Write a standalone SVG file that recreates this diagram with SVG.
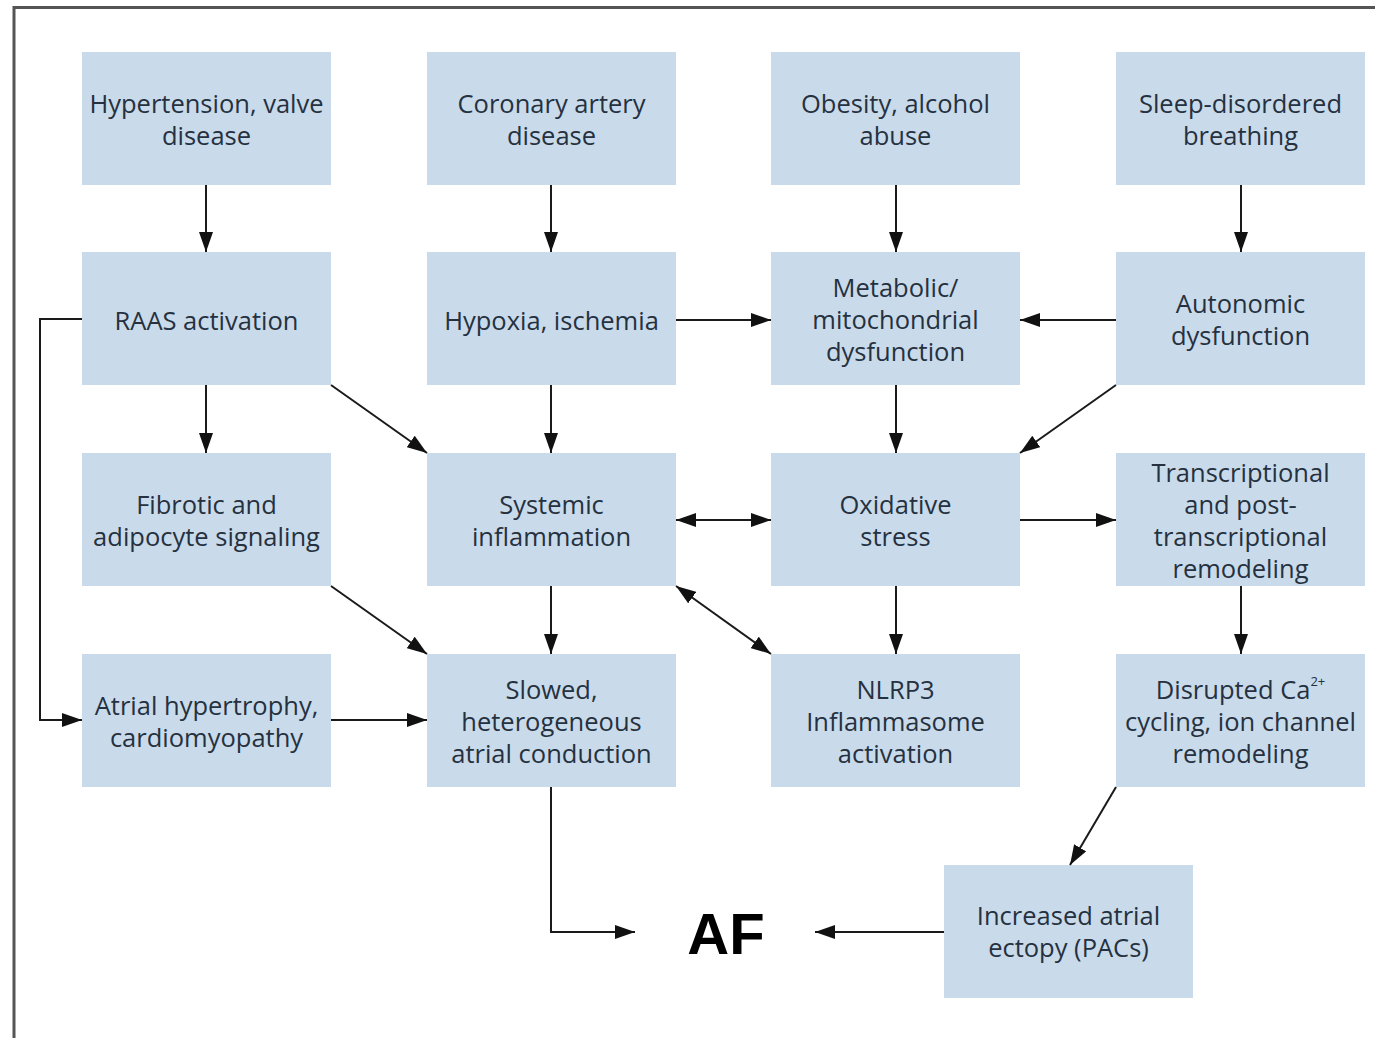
<svg xmlns="http://www.w3.org/2000/svg" width="1375" height="1038" viewBox="0 0 1375 1038">
<style>
.box{fill:#c9dbeb}
.t{font-family:"Open Sans","Noto Sans",sans-serif;font-size:25.5px;fill:#26313f;text-anchor:middle;dominant-baseline:central}
.c{stroke:#1a1a1a;stroke-width:2;fill:none}
.af{font-family:"Liberation Sans",Arial,sans-serif;font-weight:bold;font-size:58px;fill:#000;text-anchor:middle;dominant-baseline:central}
</style>
<defs>
<marker id="ah" viewBox="0 0 20 14" refX="20" refY="7" markerWidth="20" markerHeight="14" markerUnits="userSpaceOnUse" orient="auto-start-reverse">
<path d="M0,0 L20,7 L0,14 Z" fill="#111"/>
</marker>
</defs>
<rect width="1375" height="1038" fill="#fff"/>
<path d="M14,1038 V7.5 H1375" stroke="#555" stroke-width="3" fill="none"/>

<g id="n1"><rect class="box" x="82" y="52" width="249" height="133"/><text class="t" x="206.5" y="102.5">Hypertension, valve</text><text class="t" x="206.5" y="134.5">disease</text></g>
<g id="n2"><rect class="box" x="427" y="52" width="249" height="133"/><text class="t" x="551.5" y="102.5">Coronary artery</text><text class="t" x="551.5" y="134.5">disease</text></g>
<g id="n3"><rect class="box" x="771" y="52" width="249" height="133"/><text class="t" x="895.5" y="102.5">Obesity, alcohol</text><text class="t" x="895.5" y="134.5">abuse</text></g>
<g id="n4"><rect class="box" x="1116" y="52" width="249" height="133"/><text class="t" x="1240.5" y="102.5">Sleep-disordered</text><text class="t" x="1240.5" y="134.5">breathing</text></g>

<g id="n5"><rect class="box" x="82" y="252" width="249" height="133"/><text class="t" x="206.5" y="320">RAAS activation</text></g>
<g id="n6"><rect class="box" x="427" y="252" width="249" height="133"/><text class="t" x="551.5" y="320">Hypoxia, ischemia</text></g>
<g id="n7"><rect class="box" x="771" y="252" width="249" height="133"/><text class="t" x="895.5" y="287">Metabolic/</text><text class="t" x="895.5" y="319">mitochondrial</text><text class="t" x="895.5" y="351">dysfunction</text></g>
<g id="n8"><rect class="box" x="1116" y="252" width="249" height="133"/><text class="t" x="1240.5" y="303">Autonomic</text><text class="t" x="1240.5" y="335">dysfunction</text></g>

<g id="n9"><rect class="box" x="82" y="453" width="249" height="133"/><text class="t" x="206.5" y="504">Fibrotic and</text><text class="t" x="206.5" y="536">adipocyte signaling</text></g>
<g id="n10"><rect class="box" x="427" y="453" width="249" height="133"/><text class="t" x="551.5" y="504">Systemic</text><text class="t" x="551.5" y="536">inflammation</text></g>
<g id="n11"><rect class="box" x="771" y="453" width="249" height="133"/><text class="t" x="895.5" y="504">Oxidative</text><text class="t" x="895.5" y="536">stress</text></g>
<g id="n12"><rect class="box" x="1116" y="453" width="249" height="133"/><text class="t" x="1240.5" y="472">Transcriptional</text><text class="t" x="1240.5" y="504">and post-</text><text class="t" x="1240.5" y="536">transcriptional</text><text class="t" x="1240.5" y="568">remodeling</text></g>

<g id="n13"><rect class="box" x="82" y="654" width="249" height="133"/><text class="t" x="206.5" y="705">Atrial hypertrophy,</text><text class="t" x="206.5" y="737">cardiomyopathy</text></g>
<g id="n14"><rect class="box" x="427" y="654" width="249" height="133"/><text class="t" x="551.5" y="689">Slowed,</text><text class="t" x="551.5" y="721">heterogeneous</text><text class="t" x="551.5" y="753">atrial conduction</text></g>
<g id="n15"><rect class="box" x="771" y="654" width="249" height="133"/><text class="t" x="895.5" y="689">NLRP3</text><text class="t" x="895.5" y="721">Inflammasome</text><text class="t" x="895.5" y="753">activation</text></g>
<g id="n16"><rect class="box" x="1116" y="654" width="249" height="133"/><text class="t" x="1240.5" y="689">Disrupted Ca<tspan font-size="13" dy="-8">2+</tspan></text><text class="t" x="1240.5" y="721">cycling, ion channel</text><text class="t" x="1240.5" y="753">remodeling</text></g>

<g id="n17"><rect class="box" x="944" y="865" width="249" height="133"/><text class="t" x="1068.5" y="915">Increased atrial</text><text class="t" x="1068.5" y="947">ectopy (PACs)</text></g>
<g id="af"><text class="af" x="726" y="933">AF</text></g>

<g id="connectors">
<path class="c" d="M206,185 V252" marker-end="url(#ah)"/>
<path class="c" d="M551,185 V252" marker-end="url(#ah)"/>
<path class="c" d="M896,185 V252" marker-end="url(#ah)"/>
<path class="c" d="M1241,185 V252" marker-end="url(#ah)"/>
<path class="c" d="M82,319 H40 V720 H82" marker-end="url(#ah)"/>
<path class="c" d="M206,385 V453" marker-end="url(#ah)"/>
<path class="c" d="M331,385 L427,453" marker-end="url(#ah)"/>
<path class="c" d="M551,385 V453" marker-end="url(#ah)"/>
<path class="c" d="M676,320 H771" marker-end="url(#ah)"/>
<path class="c" d="M1116,320 H1020" marker-end="url(#ah)"/>
<path class="c" d="M896,385 V453" marker-end="url(#ah)"/>
<path class="c" d="M1116,385 L1020,453" marker-end="url(#ah)"/>
<path class="c" d="M676,520 H771" marker-start="url(#ah)" marker-end="url(#ah)"/>
<path class="c" d="M1020,520 H1116" marker-end="url(#ah)"/>
<path class="c" d="M331,586 L427,654" marker-end="url(#ah)"/>
<path class="c" d="M551,586 V654" marker-end="url(#ah)"/>
<path class="c" d="M676,586 L771,654" marker-start="url(#ah)" marker-end="url(#ah)"/>
<path class="c" d="M896,586 V654" marker-end="url(#ah)"/>
<path class="c" d="M1241,586 V654" marker-end="url(#ah)"/>
<path class="c" d="M331,720 H427" marker-end="url(#ah)"/>
<path class="c" d="M1116,787 L1070,865" marker-end="url(#ah)"/>
<path class="c" d="M551,787 V932 H635" marker-end="url(#ah)"/>
<path class="c" d="M944,932 H815" marker-end="url(#ah)"/>
</g>
</svg>
